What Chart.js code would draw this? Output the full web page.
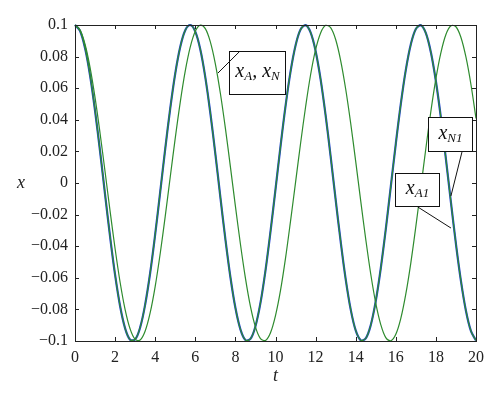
<!DOCTYPE html>
<html>
<head>
<meta charset="utf-8">
<script src="https://cdn.jsdelivr.net/npm/chart.js@4.4.1/dist/chart.umd.min.js"></script>
<style>
  html, body { margin: 0; padding: 0; background: #fff; }
  #probe { position: absolute; left: 0; top: 0; color: transparent; font-family: 'Liberation Serif'; font-size: 16px; z-index: 0; }
  #c { position: relative; z-index: 1; }
</style>
</head>
<body>
<div id="probe">0.08 −0.1 <i>x t A N</i></div>
<canvas id="c" width="500" height="403"></canvas>
<script>
// sample times (t) and curves
const tValues = [
  0, 0.25, 0.5, 0.75, 1, 1.25, 1.5, 1.75, 2, 2.25,
  2.5, 2.75, 3, 3.25, 3.5, 3.75, 4, 4.25, 4.5, 4.75,
  5, 5.25, 5.5, 5.75, 6, 6.25, 6.5, 6.75, 7, 7.25,
  7.5, 7.75, 8, 8.25, 8.5, 8.75, 9, 9.25, 9.5, 9.75,
  10, 10.25, 10.5, 10.75, 11, 11.25, 11.5, 11.75, 12, 12.25,
  12.5, 12.75, 13, 13.25, 13.5, 13.75, 14, 14.25, 14.5, 14.75,
  15, 15.25, 15.5, 15.75, 16, 16.25, 16.5, 16.75, 17, 17.25,
  17.5, 17.75, 18, 18.25, 18.5, 18.75, 19, 19.25, 19.5, 19.75,
  20
];

// x_A, x_N (slower curve)
const xAN = [
  0.1000, 0.0969, 0.0878, 0.0732, 0.0540, 0.0315, 0.0071, -0.0178, -0.0416, -0.0628,
  -0.0801, -0.0924, -0.0990, -0.0994, -0.0937, -0.0821, -0.0654, -0.0446, -0.0211, 0.0038,
  0.0284, 0.0512, 0.0709, 0.0861, 0.0960, 0.0999, 0.0977, 0.0893, 0.0754, 0.0568,
  0.0347, 0.0104, -0.0146, -0.0386, -0.0602, -0.0781, -0.0911, -0.0985, -0.0997, -0.0948,
  -0.0839, -0.0680, -0.0476, -0.0241, 0.0004, 0.0250, 0.0481, 0.0685, 0.0844, 0.0950,
  0.0998, 0.0983, 0.0908, 0.0775, 0.0595, 0.0378, 0.0137, -0.0113, -0.0355, -0.0576,
  -0.0760, -0.0896, -0.0979, -0.0999, -0.0958, -0.0857, -0.0702, -0.0505, -0.0275, -0.0029,
  0.0220, 0.0454, 0.0660, 0.0825, 0.0940, 0.0995, 0.0989, 0.0921, 0.0796, 0.0622,
  0.0408
];

// x_N1 (faster curve)
const xN1 = [
  0.1000, 0.0963, 0.0854, 0.0681, 0.0457, 0.0200, -0.0073, -0.0340, -0.0582, -0.0780,
  -0.0920, -0.0992, -0.0990, -0.0914, -0.0769, -0.0568, -0.0324, -0.0056, 0.0216, 0.0472,
  0.0693, 0.0862, 0.0967, 0.1000, 0.0958, 0.0845, 0.0669, 0.0443, 0.0184, -0.0089,
  -0.0355, -0.0595, -0.0790, -0.0926, -0.0994, -0.0987, -0.0907, -0.0759, -0.0554, -0.0308,
  -0.0040, 0.0232, 0.0487, 0.0705, 0.0870, 0.0971, 0.0999, 0.0953, 0.0836, 0.0656,
  0.0428, 0.0168, -0.0105, -0.0370, -0.0608, -0.0800, -0.0933, -0.0995, -0.0984, -0.0900,
  -0.0748, -0.0540, -0.0293, -0.0023, 0.0248, 0.0501, 0.0716, 0.0878, 0.0975, 0.0999,
  0.0948, 0.0827, 0.0644, 0.0413, 0.0151, -0.0122, -0.0386, -0.0621, -0.0810, -0.0938,
  -0.0997
];

// x_A1 lies on top of x_N1 in the picture
const xA1 = [
  0.1000, 0.0963, 0.0854, 0.0681, 0.0457, 0.0200, -0.0073, -0.0340, -0.0582, -0.0780,
  -0.0920, -0.0992, -0.0990, -0.0914, -0.0769, -0.0568, -0.0324, -0.0056, 0.0216, 0.0472,
  0.0693, 0.0862, 0.0967, 0.1000, 0.0958, 0.0845, 0.0669, 0.0443, 0.0184, -0.0089,
  -0.0355, -0.0595, -0.0790, -0.0926, -0.0994, -0.0987, -0.0907, -0.0759, -0.0554, -0.0308,
  -0.0040, 0.0232, 0.0487, 0.0705, 0.0870, 0.0971, 0.0999, 0.0953, 0.0836, 0.0656,
  0.0428, 0.0168, -0.0105, -0.0370, -0.0608, -0.0800, -0.0933, -0.0995, -0.0984, -0.0900,
  -0.0748, -0.0540, -0.0293, -0.0023, 0.0248, 0.0501, 0.0716, 0.0878, 0.0975, 0.0999,
  0.0948, 0.0827, 0.0644, 0.0413, 0.0151, -0.0122, -0.0386, -0.0621, -0.0810, -0.0938,
  -0.0997
];

const xTicks = [0, 2, 4, 6, 8, 10, 12, 14, 16, 18, 20];
const yTicks = [-0.1, -0.08, -0.06, -0.04, -0.02, 0, 0.02, 0.04, 0.06, 0.08, 0.1];

const GREEN = '#2e8b2e';
const BLUE = '#2444d0';
const SERIF = "'Liberation Serif'";

function pts(values) {
  return values.map((v, i) => ({ x: tValues[i], y: v }));
}

function fmt(v) {
  const s = String(Math.round(v * 100) / 100);
  return s.replace('-', '\u2212');
}

// labels with leader lines, in data units
const notes = [
  { parts: [['x', 'A'], [', ', ''], ['x', 'N']], box: [7.68, 10.47, 0.0835, 0.0563],
    line: [[8.23, 0.0835], [7.13, 0.0696]] },
  { parts: [['x', 'N1']], box: [17.6, 19.8, 0.0418, 0.0203],
    line: [[19.3, 0.0196], [18.75, -0.0082]] },
  { parts: [['x', 'A1']], box: [15.96, 18.15, 0.0063, -0.0146],
    line: [[17.1, -0.0152], [18.75, -0.0285]] }
];

const framePlugin = {
  id: 'frame',
  afterDraw(chart) {
    const ctx = chart.ctx;
    const a = chart.chartArea;
    const xs = chart.scales.x, ys = chart.scales.y;
    ctx.save();
    ctx.strokeStyle = '#222';
    ctx.lineWidth = 1;
    ctx.strokeRect(Math.round(a.left) + 0.5, Math.round(a.top) + 0.5,
      Math.round(a.right - a.left), Math.round(a.bottom - a.top));
    ctx.beginPath();
    xTicks.forEach(v => {
      const px = Math.round(xs.getPixelForValue(v)) + 0.5;
      ctx.moveTo(px, a.bottom); ctx.lineTo(px, a.bottom - 4);
      ctx.moveTo(px, a.top); ctx.lineTo(px, a.top + 4);
    });
    yTicks.forEach(v => {
      const py = Math.round(ys.getPixelForValue(v)) + 0.5;
      ctx.moveTo(a.left, py); ctx.lineTo(a.left + 4, py);
      ctx.moveTo(a.right, py); ctx.lineTo(a.right - 4, py);
    });
    ctx.stroke();

    // axis titles
    ctx.fillStyle = '#222';
    ctx.font = 'italic 18px ' + SERIF;
    ctx.textAlign = 'center';
    ctx.textBaseline = 'middle';
    ctx.fillText('x', a.left - 54, (a.top + a.bottom) / 2);
    ctx.fillText('t', (a.left + a.right) / 2, a.bottom + 35);

    // annotation boxes
    notes.forEach(n => {
      const x0 = Math.round(xs.getPixelForValue(n.box[0])) + 0.5;
      const x1 = Math.round(xs.getPixelForValue(n.box[1])) + 0.5;
      const y0 = Math.round(ys.getPixelForValue(n.box[2])) + 0.5;
      const y1 = Math.round(ys.getPixelForValue(n.box[3])) + 0.5;
      ctx.fillStyle = '#fff';
      ctx.fillRect(x0, y0, x1 - x0, y1 - y0);
      ctx.strokeStyle = '#111';
      ctx.lineWidth = 1;
      ctx.strokeRect(x0, y0, x1 - x0, y1 - y0);
      ctx.beginPath();
      ctx.moveTo(xs.getPixelForValue(n.line[0][0]), ys.getPixelForValue(n.line[0][1]));
      ctx.lineTo(xs.getPixelForValue(n.line[1][0]), ys.getPixelForValue(n.line[1][1]));
      ctx.stroke();

      const mainFont = 'italic 20px ' + SERIF;
      const subFont = 'italic 13px ' + SERIF;
      let w = 0;
      n.parts.forEach(p => {
        ctx.font = mainFont; w += ctx.measureText(p[0]).width;
        ctx.font = subFont; w += ctx.measureText(p[1]).width;
      });
      let cx = (x0 + x1) / 2 - w / 2;
      const cy = (y0 + y1) / 2 - 1;
      ctx.fillStyle = '#111';
      ctx.textAlign = 'left';
      ctx.textBaseline = 'middle';
      n.parts.forEach(p => {
        ctx.font = mainFont; ctx.fillText(p[0], cx, cy);
        cx += ctx.measureText(p[0]).width;
        ctx.font = subFont; ctx.fillText(p[1], cx, cy + 5);
        cx += ctx.measureText(p[1]).width;
      });
    });
    ctx.restore();
  }
};

// make sure the serif face is laid out before the canvas uses it
document.getElementById('probe').offsetWidth;

new Chart(document.getElementById('c'), {
  type: 'line',
  data: {
    datasets: [
      { label: 'x_A, x_N', data: pts(xAN), borderColor: GREEN, borderWidth: 1.2, order: 1 },
      { label: 'x_N1', data: pts(xN1), borderColor: GREEN, borderWidth: 1.2, order: 2 },
      { label: 'x_A1', data: pts(xA1), borderColor: BLUE, borderWidth: 2.2, order: 3 }
    ]
  },
  options: {
    responsive: false,
    animation: false,
    devicePixelRatio: 1,
    layout: { autoPadding: false, padding: { left: 0, right: 24, top: 25, bottom: 0 } },
    elements: {
      point: { radius: 0 },
      line: { tension: 0.35, fill: false }
    },
    datasets: { line: { clip: 3 } },
    plugins: { legend: { display: false }, tooltip: { enabled: false } },
    scales: {
      x: {
        type: 'linear', min: 0, max: 20,
        afterFit: s => { s.height = 62; },
        afterBuildTicks: s => { s.ticks = xTicks.map(v => ({ value: v })); },
        grid: { display: false, drawTicks: false },
        border: { display: false },
        ticks: { padding: 7, color: '#222', font: { family: SERIF, size: 16 }, maxRotation: 0 }
      },
      y: {
        type: 'linear', min: -0.1, max: 0.1,
        afterFit: s => { s.width = 75; },
        afterBuildTicks: s => { s.ticks = yTicks.map(v => ({ value: v })); },
        grid: { display: false, drawTicks: false },
        border: { display: false },
        ticks: { padding: 7, color: '#222', font: { family: SERIF, size: 16 }, callback: v => fmt(v) }
      }
    }
  },
  plugins: [framePlugin]
});
</script>
</body>
</html>
